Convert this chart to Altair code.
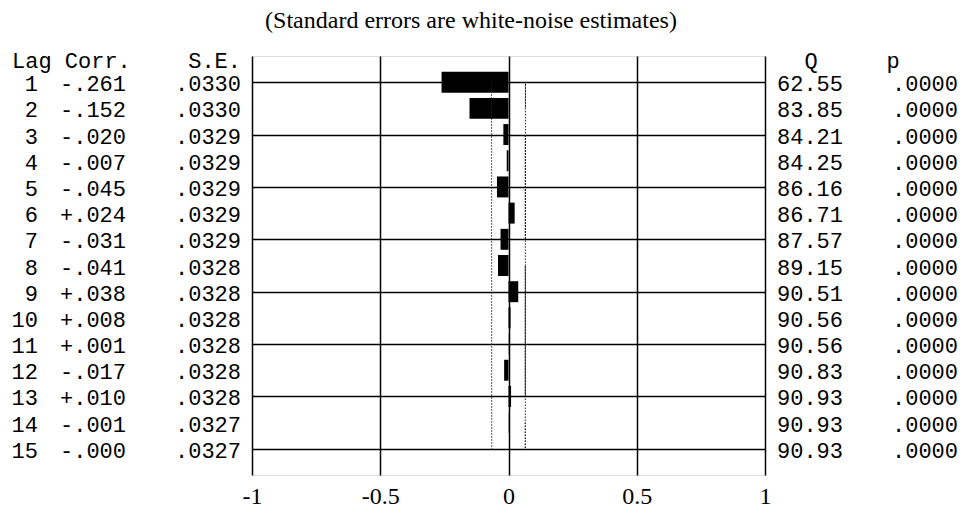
import altair as alt
import pandas as pd

lags = list(range(1, 16))
corr = [-0.261, -0.152, -0.020, -0.007, -0.045, 0.024, -0.031, -0.041, 0.038,
        0.008, 0.001, -0.017, 0.010, -0.001, -0.0]
se = [0.0330, 0.0330, 0.0329, 0.0329, 0.0329, 0.0329, 0.0329, 0.0328, 0.0328,
      0.0328, 0.0328, 0.0328, 0.0328, 0.0327, 0.0327]
q_stat = [62.55, 83.85, 84.21, 84.25, 86.16, 86.71, 87.57, 89.15, 90.51,
          90.56, 90.56, 90.83, 90.93, 90.93, 90.93]
p_val = [0.0] * 15
x_ticks = [-1, -0.5, 0, 0.5, 1]
title_text = "(Standard errors are white-noise estimates)"

df = pd.DataFrame({
    "lag": lags,
    "corr": corr,
    "se": se,
    "q": q_stat,
    "p": p_val,
})
df["lo"] = df["lag"] - 0.4
df["hi"] = df["lag"] + 0.4
df["zero"] = 0.0
df["up"] = 2 * df["se"]
df["dn"] = -2 * df["se"]
df["lag_lbl"] = df["lag"].astype(str)
df["corr_lbl"] = [f"{c:+.3f}".replace("0.", ".", 1) for c in corr]
df["se_lbl"] = [f"{s:.4f}".lstrip("0") for s in se]
df["q_lbl"] = [f"{v:.2f}" for v in q_stat]
df["p_lbl"] = [f"{v:.4f}".lstrip("0") for v in p_val]

MONO = "Liberation Mono"
SERIF = "Liberation Serif"
FS = 22

xscale = alt.Scale(domain=[-1, 1], nice=False, zero=False)
yscale = alt.Scale(domain=[0, 16], nice=False, zero=False, reverse=True)

base = alt.Chart(df)

bars = base.mark_rect(color="black").encode(
    x=alt.X("corr:Q", scale=xscale, axis=alt.Axis(
        values=x_ticks, grid=True, gridColor="black", gridWidth=1.5,
        gridOpacity=1, ticks=False, domain=False, title=None,
        labelFont=SERIF, labelFontSize=24, labelColor="black",
        labelFlush=False, labelOverlap=False, labelPadding=9,
        labelExpr="datum.value < 0 ? '-' + format(-datum.value, '') : format(datum.value, '')")),
    x2="zero:Q",
    y=alt.Y("lo:Q", scale=yscale, axis=alt.Axis(
        values=lags, grid=True, gridColor="black", gridWidth=1.5,
        gridOpacity=1, ticks=False, domain=False, labels=False, title=None)),
    y2="hi:Q",
)

dot_up = base.mark_line(color="#222", strokeWidth=1, strokeDash=[1.5, 1.5]).encode(
    x=alt.X("up:Q", scale=xscale),
    y=alt.Y("lag:Q", scale=yscale),
)
dot_dn = base.mark_line(color="#222", strokeWidth=1, strokeDash=[1.5, 1.5]).encode(
    x=alt.X("dn:Q", scale=xscale),
    y=alt.Y("lag:Q", scale=yscale),
)

def col(field, xpx, align):
    return base.mark_text(font=MONO, fontSize=FS, color="black", align=align,
                          baseline="middle", dy=2).encode(
        x=alt.value(xpx),
        y=alt.Y("lag:Q", scale=yscale),
        text=f"{field}:N",
    )

c_lag = col("lag_lbl", -214, "right")
c_corr = col("corr_lbl", -126, "right")
c_se = col("se_lbl", -11, "right")
c_q = col("q_lbl", 591, "right")
c_p = col("p_lbl", 706, "right")

def head(txt, xpx, align):
    return alt.Chart(pd.DataFrame({"t": [txt]})).mark_text(
        font=MONO, fontSize=FS, color="black", align=align, baseline="middle"
    ).encode(x=alt.value(xpx), y=alt.value(5), text="t:N")

h1 = head("Lag Corr.", -240, "left")
h2 = head("S.E.", -11, "right")
h3 = head("Q", 559, "center")
h4 = head("p", 641, "center")

title = alt.Chart(pd.DataFrame({"t": [title_text]})).mark_text(
    font=SERIF, fontSize=24, color="black", align="center", baseline="middle"
).encode(x=alt.value(219), y=alt.value(-35), text="t:N")

chart = alt.layer(
    bars, dot_up, dot_dn, c_lag, c_corr, c_se, c_q, c_p, h1, h2, h3, h4, title
).properties(
    width=513, height=419,
    autosize=alt.AutoSizeParams(type="none"),
    padding={"left": 252, "top": 56, "right": 197, "bottom": 34},
).configure_view(
    stroke="black", strokeWidth=1.5
).configure(background="white")

chart.save("out.html", embed_options={"renderer": "svg", "actions": False})
